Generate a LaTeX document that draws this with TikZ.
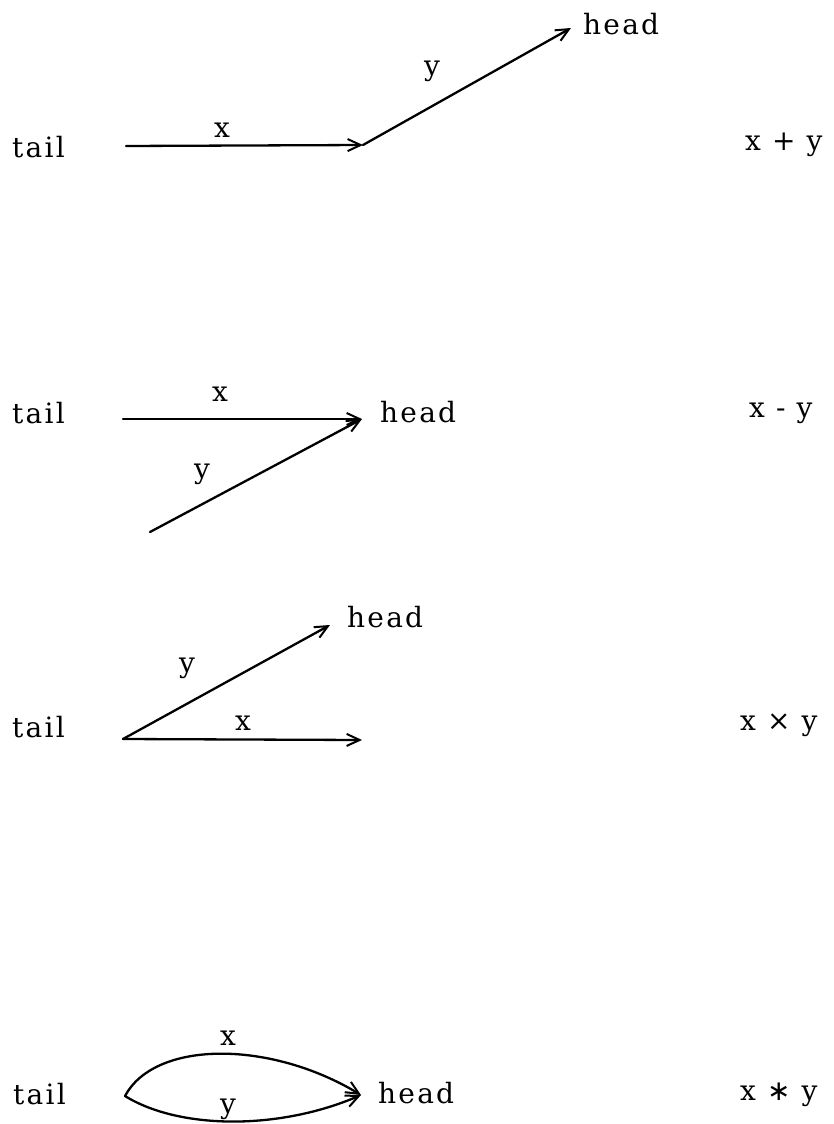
\documentclass[tikz,border=0pt]{standalone}
\usepackage{fontspec}
\setmainfont{DejaVu Serif}[LetterSpace=8]
\newfontfamily\symf{DejaVu Sans}
\usetikzlibrary{arrows.meta}
\begin{document}
\begin{tikzpicture}[x=1pt,y=-1pt,
  lbl/.style={font=\fontsize{28}{30}\selectfont, inner sep=0pt, anchor=base},
  vec/.style={line width=2.3pt, line cap=round, -{Straight Barb[length=13pt,width=12pt,line width=2pt]}}]
\useasboundingbox[fill=white] (0,0) rectangle (834,1124);

% Row 1: x + y
\node[lbl, anchor=base west] (tail1) at (12,157) {tail};
\coordinate (a1) at (126,146);
\coordinate (b1) at (363,145);
\coordinate (c1) at (571,28);
\node[lbl, anchor=base west] (head1) at (583,35) {head};
\draw[vec] (a1) -- (b1);
\draw[vec] (b1) -- (c1);
\node[lbl] (x1) at (222,137) {x};
\node[lbl] (y1) at (432,75) {y};
\node[lbl, anchor=base west] (r1) at (745,150) {x + y};

% Row 2: x - y
\node[lbl, anchor=base west] (tail2) at (12,423) {tail};
\coordinate (a2) at (123,419);
\coordinate (h2) at (362,419);
\coordinate (b2) at (150,532);
\node[lbl, anchor=base west] (head2) at (380,422) {head};
\draw[vec] (a2) -- (h2);
\draw[vec] (b2) -- (h2);
\node[lbl] (x2) at (220,401) {x};
\node[lbl] (y2) at (202,478) {y};
\node[lbl, anchor=base west] (r2) at (749,417) {x - y};

% Row 3: x × y
\node[lbl, anchor=base west] (tail3) at (12,737) {tail};
\coordinate (o3) at (123,739);
\coordinate (p3) at (330,625);
\coordinate (q3) at (362,740);
\node[lbl, anchor=base west] (head3) at (347,627) {head};
\draw[vec] (o3) -- (p3);
\draw[vec] (o3) -- (q3);
\node[lbl] (y3) at (187,672) {y};
\node[lbl] (x3) at (243,730) {x};
\node[lbl, anchor=base west] (r3) at (740,730) {x × y};

% Row 4: x * y
\node[lbl, anchor=base west] (tail4) at (13,1104) {tail};
\coordinate (o4) at (125,1096);
\coordinate (p4) at (361,1095);
\node[lbl, anchor=base west] (head4) at (378,1103) {head};
\draw[vec] (o4) .. controls (155,1040) and (270,1040) .. (p4);
\draw[vec] (o4) .. controls (180,1130) and (280,1130) .. (p4);
\node[lbl] (x4) at (228,1045) {x};
\node[lbl] (y4) at (228,1113) {y};
\node[lbl, anchor=base west] (r4) at (740,1100) {x {\symf ∗} y};
\end{tikzpicture}
\end{document}
